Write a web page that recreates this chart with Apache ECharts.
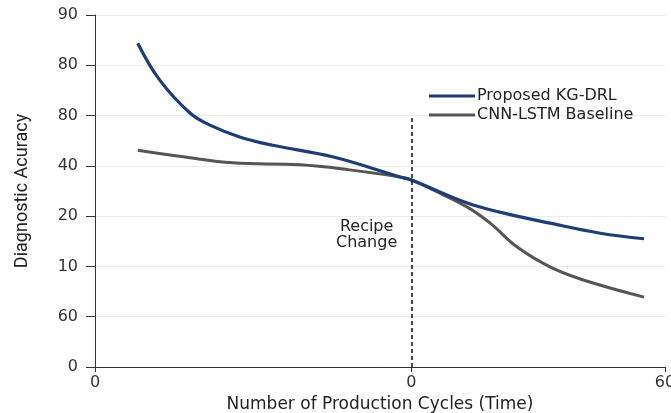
<!DOCTYPE html>
<html>
<head>
<meta charset="utf-8">
<script src="https://cdn.jsdelivr.net/npm/echarts@6/dist/echarts.min.js"></script>
<style>html,body{margin:0;padding:0;background:#fff}#c{width:671px;height:413px}</style>
</head>
<body>
<div id="c"></div>
<script>
var yTickLabels = ['0', '60', '10', '20', '40', '80', '80', '90'];
var xTickValues = [0, 33.3, 60];
var xTickLabels = ['0', '0', '60'];
var recipeChangeX = 33.3;
var recipeLineTop = 50;
var seriesNames = ['Proposed KG-DRL', 'CNN-LSTM Baseline'];
var kgDrl = [[4.5, 64.4], [6.8, 57.1], [10.0, 50.5], [12.1, 48.1], [15.3, 45.7], [18.7, 44.1], [25.0, 41.8], [32.1, 37.8], [33.3, 37.2], [39.2, 32.6], [42.6, 30.8], [47.9, 28.6], [53.2, 26.6], [57.8, 25.5]];
var cnnLstm = [[4.5, 43.1], [9.3, 41.8], [14.5, 40.6], [21.6, 40.2], [26.8, 39.2], [32.1, 37.8], [33.3, 37.2], [35.6, 35.2], [39.2, 31.8], [41.6, 28.6], [44.4, 23.9], [47.9, 19.9], [51.4, 17.3], [57.8, 13.9]];

var chart = echarts.init(document.getElementById('c'));
var font = '"DejaVu Sans", Verdana, sans-serif';
chart.setOption({
  animation: false,
  textStyle: { fontFamily: font },
  grid: { left: 95, right: 6, top: 15, bottom: 46, containLabel: false, outerBoundsMode: 'none' },
  legend: {
    orient: 'vertical',
    left: 424, top: 83,
    itemWidth: 46, itemHeight: 3, itemGap: 3,
    icon: 'rect',
    textStyle: { fontSize: 16, color: '#222', fontFamily: font, padding: [0, 0, 0, -3] },
    data: seriesNames
  },
  xAxis: {
    type: 'value', min: 0, max: 60,
    name: 'Number of Production Cycles (Time)',
    nameLocation: 'middle', nameGap: 27,
    nameTextStyle: { fontSize: 17, color: '#222', fontFamily: font },
    axisLine: { lineStyle: { color: '#333', width: 1 } },
    axisTick: { show: true, customValues: xTickValues, length: 5, lineStyle: { color: '#333' } },
    axisLabel: {
      customValues: xTickValues, fontSize: 16, color: '#333', margin: 8, fontFamily: font,
      formatter: function (v) { var i = xTickValues.indexOf(v); return i >= 0 ? xTickLabels[i] : ''; }
    },
    splitLine: { show: false }
  },
  yAxis: {
    type: 'value', min: 0, max: 70, interval: 10,
    name: 'Diagnostic Acuracy',
    nameLocation: 'middle', nameGap: 64,
    nameTextStyle: { fontSize: 18, color: '#222', fontFamily: '"Liberation Sans Narrow", "Roboto", sans-serif' },
    axisLine: { show: true, lineStyle: { color: '#333', width: 1 } },
    axisTick: { show: true, length: 9, lineStyle: { color: '#333' } },
    axisLabel: {
      fontSize: 16, color: '#333', margin: 17, fontFamily: font,
      formatter: function (v) { return yTickLabels[Math.round(v / 10)]; }
    },
    splitLine: { lineStyle: { color: '#ececec', width: 1 } }
  },
  series: [
    {
      name: seriesNames[0], type: 'line', data: kgDrl, smooth: 0.4, showSymbol: false,
      lineStyle: { color: '#1c3d78', width: 3.2 }, itemStyle: { color: '#1c3d78' }, z: 3,
      markLine: {
        silent: true, symbol: 'none',
        lineStyle: { color: '#111', type: [4, 3], width: 1.5 },
        label: { show: false },
        data: [[{ coord: [recipeChangeX, 0] }, { coord: [recipeChangeX, recipeLineTop] }]]
      }
    },
    {
      name: seriesNames[1], type: 'line', data: cnnLstm, smooth: 0.4, showSymbol: false,
      lineStyle: { color: '#555555', width: 3 }, itemStyle: { color: '#555555' }, z: 2
    }
  ],
  graphic: [{
    type: 'text', left: 336, top: 219,
    style: { text: 'Recipe\nChange', font: '16px ' + font, fill: '#222', textAlign: 'center', lineHeight: 16 }
  }]
});
</script>
</body>
</html>
